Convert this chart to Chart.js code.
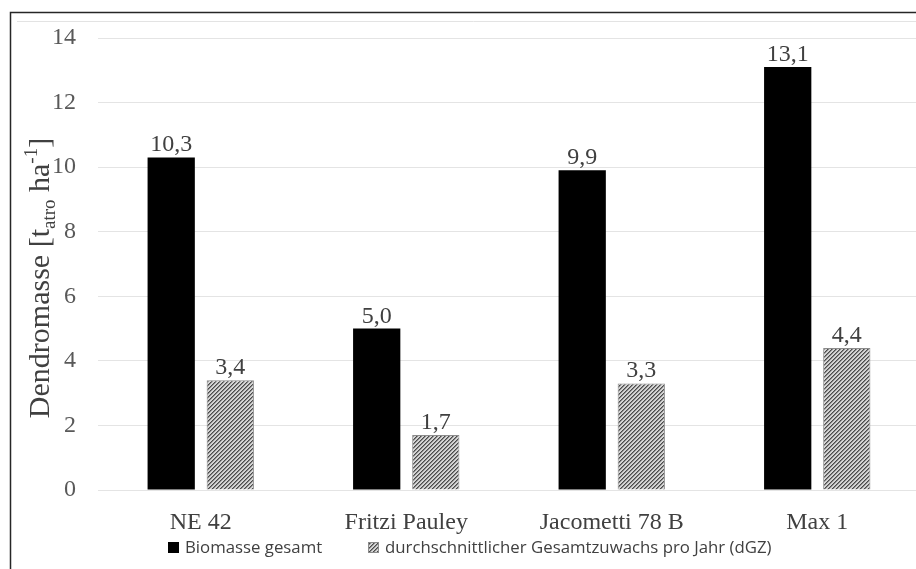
<!DOCTYPE html>
<html>
<head>
<meta charset="utf-8">
<script src="https://cdn.jsdelivr.net/npm/chart.js@4/dist/chart.umd.min.js"></script>
<style>
  html, body { margin: 0; padding: 0; background: #ffffff; overflow: hidden; }
  #wrap { width: 930px; height: 569px; }
</style>
</head>
<body>
<div id="wrap"><canvas id="c" width="930" height="569"></canvas></div>
<script>
// Dry biomass per clone
const categories = ['NE 42', 'Fritzi Pauley', 'Jacometti 78 B', 'Max 1'];
const biomasseGesamt = [10.3, 5.0, 9.9, 13.1];
const dgzProJahr = [3.4, 1.7, 3.3, 4.4];
const seriesNames = ['Biomasse gesamt', 'durchschnittlicher Gesamtzuwachs pro Jahr (dGZ)'];
const yTicks = [0, 2, 4, 6, 8, 10, 12, 14];

const serif = "'Liberation Serif', 'Times New Roman', serif";
const sans = "'Open Sans', 'Noto Sans', sans-serif";

const canvas = document.getElementById('c');
const ctx0 = canvas.getContext('2d');

// Diagonal hatch tile for the annual increment bars
function makeHatch() {
  const t = document.createElement('canvas');
  t.width = 8; t.height = 8;
  const g = t.getContext('2d');
  const img = g.createImageData(8, 8);
  for (let y = 0; y < 8; y++) {
    for (let x = 0; x < 8; x++) {
      const k = (x + y) % 4;
      const v = k === 0 ? 75 : (k === 1 ? 135 : 212);
      const i = (y * 8 + x) * 4;
      img.data[i] = v; img.data[i + 1] = v; img.data[i + 2] = v; img.data[i + 3] = 255;
    }
  }
  g.putImageData(img, 0, 0);
  return ctx0.createPattern(t, 'repeat');
}
const hatch = makeHatch();

const fmt = v => v.toFixed(1).replace('.', ',');

// Frame around the figure
const framePlugin = {
  id: 'frame',
  beforeDraw(chart) {
    const c = chart.ctx;
    c.save();
    c.strokeStyle = '#e3e3e3';
    c.lineWidth = 1;
    c.beginPath();
    c.moveTo(17, 21.5); c.lineTo(chart.width, 21.5);
    c.stroke();
    c.strokeStyle = '#262626';
    c.lineWidth = 1.5;
    c.beginPath();
    c.moveTo(10.5, chart.height + 5); c.lineTo(10.5, 12.5); c.lineTo(chart.width + 5, 12.5);
    c.stroke();
    c.restore();
  }
};

// Value labels above bars
const valueLabels = {
  id: 'valueLabels',
  afterDatasetsDraw(chart) {
    const c = chart.ctx;
    c.save();
    c.font = '24px ' + serif;
    c.fillStyle = '#404040';
    c.textAlign = 'center';
    c.textBaseline = 'alphabetic';
    chart.data.datasets.forEach((ds, di) => {
      chart.getDatasetMeta(di).data.forEach((bar, i) => {
        c.fillText(fmt(ds.data[i]), bar.x, bar.y - 6);
      });
    });
    c.restore();
  }
};

// Rotated y-axis title with subscript and superscript
const yTitle = {
  id: 'yTitle',
  afterDraw(chart) {
    const c = chart.ctx;
    const parts = [
      { t: 'Dendromasse [t', s: 30, dy: 0 },
      { t: 'atro', s: 19, dy: 6 },
      { t: ' ha', s: 30, dy: 0 },
      { t: '-1', s: 19, dy: -12 },
      { t: ']', s: 30, dy: 0 }
    ];
    c.save();
    let total = 0;
    parts.forEach(p => { c.font = p.s + 'px ' + serif; p.w = c.measureText(p.t).width; total += p.w; });
    c.translate(49, 278);
    c.rotate(-Math.PI / 2);
    c.fillStyle = '#404040';
    c.textBaseline = 'alphabetic';
    c.textAlign = 'left';
    let x = -total / 2;
    parts.forEach(p => {
      c.font = p.s + 'px ' + serif;
      c.fillText(p.t, x, p.dy);
      x += p.w;
    });
    c.restore();
  }
};

// Legend row under the category labels
const legendRow = {
  id: 'legendRow',
  afterDraw(chart) {
    const c = chart.ctx;
    c.save();
    c.font = '16.8px ' + sans;
    c.textBaseline = 'middle';
    const y = 547;
    const items = [
      { x: 168, fill: '#000000', stroke: null },
      { x: 368, fill: hatch, stroke: '#8c8c8c' }
    ];
    items.forEach((it, i) => {
      c.fillStyle = it.fill;
      c.fillRect(it.x, y - 5, 11, 11);
      if (it.stroke) { c.strokeStyle = it.stroke; c.lineWidth = 1; c.strokeRect(it.x + 0.5, y - 4.5, 10, 10); }
      c.fillStyle = '#404040';
      c.fillText(seriesNames[i], it.x + 17, y + 1);
    });
    c.restore();
  }
};

new Chart(canvas, {
  type: 'bar',
  data: {
    labels: categories,
    datasets: [
      {
        label: seriesNames[0],
        data: biomasseGesamt,
        backgroundColor: '#000000',
        borderWidth: 0,
        barPercentage: 0.8,
        categoryPercentage: 0.575
      },
      {
        label: seriesNames[1],
        data: dgzProJahr,
        backgroundColor: hatch,
        borderColor: '#8c8c8c',
        borderWidth: 1,
        barPercentage: 0.8,
        categoryPercentage: 0.575
      }
    ]
  },
  options: {
    responsive: false,
    animation: false,
    devicePixelRatio: 1,
    layout: { padding: { left: 23, right: 10, top: 38, bottom: 8 } },
    plugins: {
      legend: { display: false },
      tooltip: { enabled: false }
    },
    scales: {
      x: {
        afterFit(scale) { scale.height = 71; },
        grid: { display: false },
        border: { display: false },
        ticks: {
          font: { family: serif, size: 24 },
          color: '#404040',
          padding: 10
        }
      },
      y: {
        min: 0,
        max: 14,
        afterFit(scale) { scale.width = 75; },
        afterBuildTicks(scale) { scale.ticks = yTicks.map(v => ({ value: v })); },
        grid: { color: '#e4e4e4', lineWidth: 1, drawTicks: false },
        border: { display: false },
        ticks: {
          font: { family: serif, size: 24 },
          color: '#595959',
          padding: 22
        }
      }
    }
  },
  plugins: [framePlugin, valueLabels, yTitle, legendRow]
});
</script>
</body>
</html>
